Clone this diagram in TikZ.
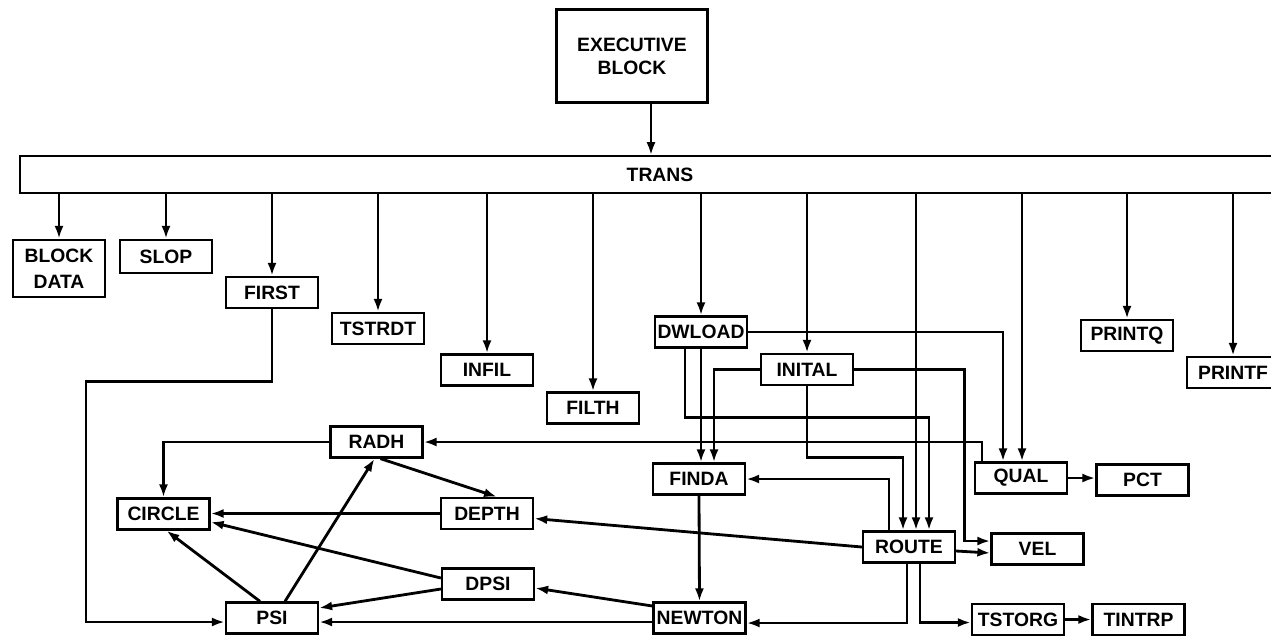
\documentclass[tikz,border=0pt]{standalone}
\usepackage{fontspec}
\newfontfamily\chartfont{Liberation Sans}
\usetikzlibrary{calc}
\usetikzlibrary{arrows.meta}

\begin{document}
\begin{tikzpicture}[
    x=0.02cm, y=-0.02cm,
    module/.style={rectangle, draw=black, line width=1.3pt, minimum width=1.84cm, minimum height=0.62cm, inner sep=0pt, align=center, font=\chartfont\bfseries\fontsize{11}{13}\selectfont},
    call/.style={line width=1.6pt, -{Latex[length=2.6mm,width=1.8mm]}},
]
    \useasboundingbox (0,0) rectangle (1271,637);

    % --- Top level ---
    \node[module, minimum width=3.02cm, minimum height=1.86cm] (EXEC) at (632,56) {EXECUTIVE\\BLOCK};
    \node[module, line width=0.9pt, minimum width=25.6cm, minimum height=0.74cm] (TRANS) at (660,174.5) {TRANS};

    % --- Called by TRANS ---
    \node[module, minimum height=1.14cm] (BD) at (59,268.5) {BLOCK\\[2pt]DATA};
    \node[module, minimum height=0.66cm] (SLOP) at (166,256.5) {SLOP};
    \node[module] (FIRST)  at (272,292.5)  {FIRST};
    \node[module] (TSTRDT) at (378,328.5)  {TSTRDT};
    \node[module] (INFIL)  at (487,370)    {INFIL};
    \node[module] (FILTH)  at (593,408)    {FILTH};
    \node[module] (DWLOAD) at (701,332)    {DWLOAD};
    \node[module] (INITAL) at (807,369.5)  {INITAL};
    \node[module] (PRINTQ) at (1127,335.5) {PRINTQ};
    \node[module] (PRINTF) at (1233,372.5) {PRINTF};
    \node[module] (ROUTE)  at (909,547)    {ROUTE};
    \node[module] (QUAL)   at (1021,478)   {QUAL};

    % --- Lower modules ---
    \node[module] (RADH)   at (376.5,442) {RADH};
    \node[module] (CIRCLE) at (163.5,514) {CIRCLE};
    \node[module] (DEPTH)  at (487,513.5) {DEPTH};
    \node[module] (DPSI)   at (488,584)   {DPSI};
    \node[module] (PSI)    at (272,618)   {PSI};
    \node[module] (FINDA)  at (699,479)   {FINDA};
    \node[module] (NEWTON) at (699.5,618) {NEWTON};
    \node[module] (PCT)    at (1142.5,480) {PCT};
    \node[module] (VEL)    at (1037.5,549) {VEL};
    \node[module] (TSTORG) at (1018,619.5) {TSTORG};
    \node[module] (TINTRP) at (1138.5,619.5) {TINTRP};

    % entry points on ROUTE and QUAL
    \coordinate (R1) at ($(ROUTE.north)+(-6,0)$);
    \coordinate (R2) at ($(ROUTE.north)+(7,0)$);
    \coordinate (R3) at ($(ROUTE.north)+(20,0)$);
    \coordinate (Q1) at ($(QUAL.north)+(-18,0)$);
    \coordinate (Q2) at ($(QUAL.north)+(1,0)$);

    % --- EXECUTIVE -> TRANS ---
    \draw[call] ($(EXEC.south)+(19,0)$) -- ($(TRANS.north)+(-9,0)$);

    % --- TRANS -> modules ---
    \draw[call] (TRANS.south -| BD.north) -- (BD.north);
    \draw[call] (TRANS.south -| SLOP.north) -- (SLOP.north);
    \draw[call] (TRANS.south -| FIRST.north) -- (FIRST.north);
    \draw[call] (TRANS.south -| TSTRDT.north) -- (TSTRDT.north);
    \draw[call] (TRANS.south -| INFIL.north) -- (INFIL.north);
    \draw[call] (TRANS.south -| FILTH.north) -- (FILTH.north);
    \draw[call] (TRANS.south -| DWLOAD.north) -- (DWLOAD.north);
    \draw[call] (TRANS.south -| INITAL.north) -- (INITAL.north);
    \draw[call] (TRANS.south -| R2) -- (R2);
    \draw[call] (TRANS.south -| Q2) -- (Q2);
    \draw[call] (TRANS.south -| PRINTQ.north) -- (PRINTQ.north);
    \draw[call] (TRANS.south -| PRINTF.north) -- (PRINTF.north);

    % --- FIRST ---
    \draw[call] (FIRST.south) -- ++(0,72) -- ++(-186,0) |- ($(PSI.west)+(0,4)$);

    % --- DWLOAD ---
    \draw[call] (DWLOAD.east) -| (Q1);
    \draw[call] (DWLOAD.south) -- (DWLOAD.south |- FINDA.north);
    \draw[call] ($(DWLOAD.south)+(-16,0)$) -- ++(0,69) -| (R3);

    % --- INITAL ---
    \draw[call] (INITAL.west) -| ($(FINDA.north)+(15,0)$);
    \draw[call] (INITAL.south) -- ++(0,71) -| (R1);
    \draw[call] (INITAL.east) -- ++(110,0) |- ($(VEL.west)+(0,-8)$);

    % --- QUAL ---
    \draw[call] ($(QUAL.north)+(-39,0)$) |- (RADH.east);
    \draw[call] (QUAL.east) -- (QUAL.east -| PCT.west);

    % --- ROUTE ---
    \draw[call] ($(ROUTE.north)+(-20,0)$) |- (FINDA.east);
    \draw[call] (ROUTE.west) -- ($(DEPTH.east)+(0,5)$);
    \draw[call] ($(ROUTE.east)+(0,4)$) -- ($(VEL.west)+(0,4)$);
    \draw[call] ($(ROUTE.south)+(-2,0)$) |- ($(NEWTON.east)+(0,5)$);
    \draw[call] ($(ROUTE.south)+(11,0)$) |- ($(TSTORG.west)+(0,3)$);
    \draw[call] (TSTORG.east) -- (TSTORG.east -| TINTRP.west);

    % --- FINDA / NEWTON ---
    \draw[call] (FINDA.south) -- (NEWTON.north);
    \draw[call] ($(NEWTON.west)+(0,-12)$) -- ($(DPSI.east)+(0,4)$);
    \draw[call] ($(NEWTON.west)+(0,4)$) -- ($(PSI.east)+(0,4)$);

    % --- DPSI, DEPTH, RADH, PSI ---
    \draw[call] ($(DPSI.west)+(0,-6)$) -- ($(CIRCLE.east)+(0,8)$);
    \draw[call] ($(DPSI.west)+(0,5)$) -- ($(PSI.east)+(0,-10)$);
    \draw[call] (DEPTH.west) -- (DEPTH.west -| CIRCLE.east);
    \draw[call] (RADH.west) -| (CIRCLE.north);
    \draw[call] ($(RADH.south)+(4,0)$) -- ($(DEPTH.north)+(10,0)$);
    \draw[call] ($(PSI.north)+(13,0)$) -- ($(RADH.south)+(-2,0)$);
    \draw[call] ($(PSI.north)+(-12,0)$) -- ($(CIRCLE.south)+(3,0)$);

\end{tikzpicture}
\end{document}
